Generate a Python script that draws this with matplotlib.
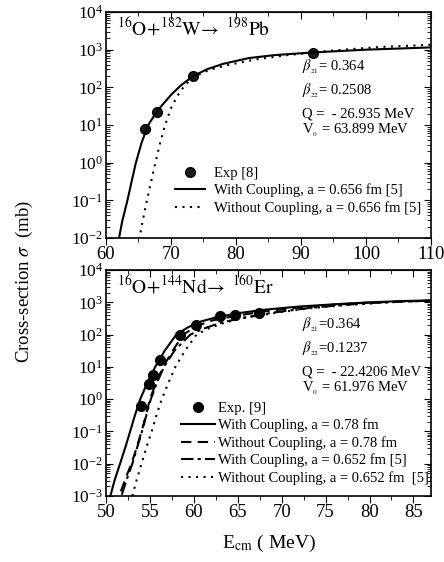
import matplotlib
matplotlib.use("Agg")
import matplotlib.pyplot as plt
from matplotlib.ticker import LogLocator, MultipleLocator, NullFormatter

plt.rcParams['font.family'] = ['Liberation Serif', 'DejaVu Serif']
plt.rcParams['mathtext.fontset'] = 'stix'

# 16O + 182W -> 198Pb
exp_w_e = [66.0, 67.9, 73.4, 91.8]
exp_w_s = [7.7, 21.5, 200, 830]
cpl_w_e = [61.9, 62.5, 63.3, 64.0, 64.6, 65.5, 66.5, 67.5, 68.5, 70.0, 71.5, 73.4, 75.5, 78, 82, 86, 92, 100, 110]
cpl_w_s = [0.008, 0.028, 0.1, 0.35, 1.0, 3.5, 10, 18.6, 31.6, 63, 112, 200, 300, 420, 600, 720, 850, 1000, 1150]
nocpl_w_e = [65.1, 65.7, 66.3, 67.0, 67.6, 68.3, 69.1, 70.0, 71.0, 71.9, 73.0, 74.0, 76, 79, 83, 88, 95, 102, 110]
nocpl_w_s = [0.009, 0.032, 0.1, 0.35, 1.0, 3.2, 10, 28, 60, 100, 160, 210, 295, 400, 550, 720, 955, 1175, 1350]

# 16O + 144Nd -> 160Er
exp_nd_e = [54.0, 54.9, 55.3, 56.2, 58.4, 60.3, 63.0, 64.7, 67.4]
exp_nd_s = [0.6, 3.0, 5.8, 16, 95, 200, 370, 400, 480]
cpl78_e = [50.45, 51.0, 51.6, 52.2, 52.75, 53.3, 53.9, 54.7, 55.6, 56.7, 58.0, 59.3, 60.7, 62.5, 65, 68.3, 72, 76, 80, 84, 87]
cpl78_s = [0.0009, 0.0032, 0.01, 0.032, 0.1, 0.32, 1.0, 3.2, 10, 32, 100, 166, 250, 340, 460, 600, 740, 870, 1000, 1100, 1150]
nocpl78_e = [51.7, 52.3, 52.9, 53.5, 54.05, 54.55, 55.0, 55.7, 56.5, 57.6, 58.8, 60.2, 62, 64.5, 68, 72, 76, 80, 84, 87]
nocpl78_s = [0.0014, 0.004, 0.01, 0.032, 0.1, 0.32, 1.0, 3.2, 10, 32, 100, 178, 270, 370, 525, 690, 850, 980, 1070, 1120]
cpl652_e = [51.8, 52.4, 53.0, 53.55, 54.1, 54.6, 55.1, 55.8, 56.6, 57.8, 59.6, 61.0, 63, 65.5, 69, 73, 77, 81, 84, 87]
cpl652_s = [0.0011, 0.0035, 0.01, 0.032, 0.1, 0.32, 1.0, 3.2, 10, 32, 100, 150, 230, 330, 480, 660, 830, 980, 1070, 1120]
nocpl652_e = [53.0, 53.5, 54.05, 54.6, 55.2, 55.75, 56.35, 57.1, 57.9, 59.0, 60.3, 61.8, 63.5, 66, 69.5, 73, 77, 81, 84, 87]
nocpl652_s = [0.001, 0.0032, 0.01, 0.032, 0.1, 0.32, 1.0, 3.2, 10, 32, 100, 160, 235, 340, 480, 645, 810, 955, 1050, 1120]

DOT = (0, (1, 2.6))
DASH = (0, (5, 3))
DASHDOT = (0, (6, 2, 1.5, 2))
FS = 10.5


def style_axes(ax, xmaj, xmin):
    ax.set_yscale('log')
    ax.xaxis.set_major_locator(MultipleLocator(xmaj))
    ax.xaxis.set_minor_locator(MultipleLocator(xmin))
    ax.yaxis.set_major_locator(LogLocator(base=10, numticks=20))
    ax.yaxis.set_minor_locator(LogLocator(base=10, subs=range(2, 10), numticks=20))
    ax.yaxis.set_minor_formatter(NullFormatter())
    ax.tick_params(axis='y', which='both', direction='in', left=True, right=True, labelsize=12.5, pad=2)
    ax.tick_params(axis='y', which='major', length=5)
    ax.tick_params(axis='y', which='minor', length=3)
    ax.tick_params(axis='x', which='both', direction='out', labelsize=13.5, pad=1)
    ax.tick_params(axis='x', which='major', length=5)
    ax.tick_params(axis='x', which='minor', length=3)
    top = ax.secondary_xaxis('top')
    top.xaxis.set_major_locator(MultipleLocator(xmaj))
    top.xaxis.set_minor_locator(MultipleLocator(xmin))
    top.tick_params(axis='x', which='both', direction='in', labeltop=False)
    top.tick_params(axis='x', which='major', length=5)
    top.tick_params(axis='x', which='minor', length=3)
    for s in ax.spines.values():
        s.set_linewidth(1.2)


def params(ax, lines, ys):
    for txt, y in zip(lines, ys):
        ax.text(0.603, y, txt, transform=ax.transAxes, fontsize=FS, va='center', ha='left')


fig = plt.figure(figsize=(4.44, 5.62), dpi=100)
ax1 = fig.add_axes([0.2387, 0.5765, 0.732, 0.4021])
ax2 = fig.add_axes([0.2387, 0.1174, 0.732, 0.4021])

# top panel
ax1.plot(exp_w_e, exp_w_s, 'o', color='#1a1a1a', ms=7, mec='#000000', label='Exp [8]')
ax1.plot(cpl_w_e, cpl_w_s, '-', color='k', lw=1.5, label='With Coupling, a = 0.656 fm [5]')
ax1.plot(nocpl_w_e, nocpl_w_s, linestyle=DOT, color='k', lw=1.5, label='Without Coupling, a = 0.656 fm [5]')
ax1.set_xlim(60, 110)
ax1.set_ylim(1e-2, 1e4)
style_axes(ax1, 10, 5)
ax1.text(0.035, 0.93, r'$^{16}\mathrm{O}\!+\!^{182}\mathrm{W}\!\rightarrow\ ^{198}\mathrm{Pb}$',
         transform=ax1.transAxes, fontsize=14, va='center', ha='left')
params(ax1, [r'$\beta_{_{21}}$= 0.364', r'$\beta_{_{22}}$= 0.2508',
             'Q =  - 26.935 MeV', r'V$_{_0}$ = 63.899 MeV'],
       [0.757, 0.65, 0.549, 0.478])
ax1.legend(loc='upper left', bbox_to_anchor=(0.18, 0.36), frameon=False, fontsize=FS,
           handlelength=2.1, handletextpad=0.6, labelspacing=0.25, borderpad=0.2)

# bottom panel
ax2.plot(exp_nd_e, exp_nd_s, 'o', color='k', ms=7, label='Exp. [9]')
ax2.plot(cpl78_e, cpl78_s, '-', color='k', lw=1.5, label='With Coupling, a = 0.78 fm')
ax2.plot(nocpl78_e, nocpl78_s, linestyle=DASH, color='k', lw=1.5, label='Without Coupling, a = 0.78 fm')
ax2.plot(cpl652_e, cpl652_s, linestyle=DASHDOT, color='k', lw=1.5, label='With Coupling, a = 0.652 fm [5]')
ax2.plot(nocpl652_e, nocpl652_s, linestyle=DOT, color='k', lw=1.5, label='Without Coupling, a = 0.652 fm  [5]')
ax2.set_xlim(50, 87)
ax2.set_ylim(1e-3, 1e4)
style_axes(ax2, 5, 2.5)
ax2.text(0.035, 0.93, r'$^{16}\mathrm{O}\!+\!^{144}\mathrm{Nd}\!\rightarrow\ ^{160}\mathrm{Er}$',
         transform=ax2.transAxes, fontsize=14, va='center', ha='left')
params(ax2, [r'$\beta_{_{21}}$=0.364', r'$\beta_{_{22}}$=0.1237',
             'Q =  - 22.4206 MeV', r'V$_{_0}$ = 61.976 MeV'],
       [0.757, 0.653, 0.55, 0.477])
ax2.legend(loc='upper left', bbox_to_anchor=(0.2, 0.462), frameon=False, fontsize=FS,
           handlelength=2.3, handletextpad=0.2, labelspacing=0.25, borderpad=0.2)

ax2.set_xlabel(r'E$_{\rm cm}$ ( MeV)', fontsize=14, labelpad=8)
fig.text(0.055, 0.5, r'Cross-section $\sigma$  (mb)', rotation=90, fontsize=13.5,
         va='center', ha='center')

fig.savefig('out.png', dpi=100)
